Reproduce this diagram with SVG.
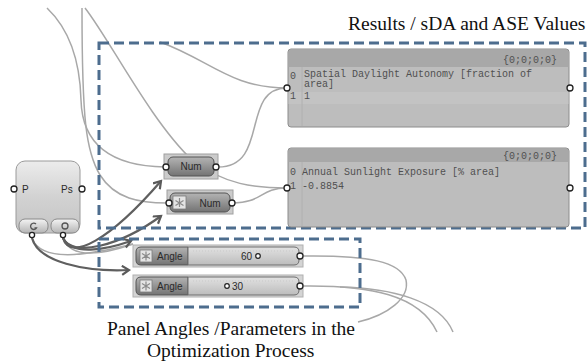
<svg xmlns="http://www.w3.org/2000/svg" width="587" height="361" viewBox="0 0 587 361">
<defs>
<linearGradient id="gNode" x1="0" y1="0" x2="0" y2="1"><stop offset="0" stop-color="#ececec"/><stop offset="0.5" stop-color="#d2d2d2"/><stop offset="1" stop-color="#c4c4c4"/></linearGradient>
<linearGradient id="gBtn" x1="0" y1="0" x2="0" y2="1"><stop offset="0" stop-color="#f4f4f4"/><stop offset="1" stop-color="#b4b4b4"/></linearGradient>
<linearGradient id="gDark" x1="0" y1="0" x2="0" y2="1"><stop offset="0" stop-color="#b4b4b4"/><stop offset="1" stop-color="#737373"/></linearGradient>
<linearGradient id="gTrack" x1="0" y1="0" x2="0" y2="1"><stop offset="0" stop-color="#e2e2e2"/><stop offset="1" stop-color="#bcbcbc"/></linearGradient>
<marker id="arr" markerUnits="userSpaceOnUse" markerWidth="12" markerHeight="12" refX="8" refY="5" orient="auto"><path d="M1,0.5 L8,5 L1,9.5" fill="none" stroke="#5a5a5a" stroke-width="2.2"/></marker>
</defs>
<style>
.wire{fill:none;stroke:#a8a8a8;stroke-width:1.5}
.arrow{fill:none;stroke:#5f5f5f;stroke-width:2.2;marker-end:url(#arr)}
.dash{fill:none;stroke:#4d6d8e;stroke-width:3;stroke-dasharray:10 5}
.port{fill:#fff;stroke:#222;stroke-width:1.3}
.lbl{font-family:"Liberation Sans",Arial,sans-serif;font-size:10px;fill:#2a2a2a}
.mono{font-family:"Liberation Mono","Courier New",monospace;font-size:10px;fill:#505050}
.cap{font-family:"Liberation Serif","Times New Roman",serif;font-size:19.5px;fill:#111}
.panel{fill:#bdbdbd;stroke:#8c8c8c;stroke-width:1}
.hdr{fill:#a8a8a8}
.icon{fill:#e4e4e4;stroke:#7a7a7a;stroke-width:0.8}
.ast{stroke:#8a8a8a;stroke-width:1.2}
</style>
<rect width="587" height="361" fill="#fff"/>

<g id="connectors">
<path class="wire" d="M47,8 C68,28 80,60 81,100 C82,140 105,166 165,167"/>
<path class="wire" d="M82,8 C82,120 86,152 100,175 C115,199 140,203 167,203"/>
<path class="wire" d="M85,8 C110,40 150,120 192,160 C225,185 255,188 287,188"/>
<path class="wire" d="M160,42 C210,60 230,88 287,88"/>
<path class="wire" d="M218,167 C270,167 240,88 287,88"/>
<path class="wire" d="M233,203 C262,203 260,188 287,188"/>
<path class="wire" d="M302,256 C370,255 400,262 406,280 C410,298 388,315 358,322"/>
<path class="wire" d="M302,286 C370,285 420,295 437,332"/>
<path class="wire" d="M340,287 C390,288 440,300 453,332"/>
<path class="wire" d="M32,238 C42,266 100,252 133,244"/>
<path class="wire" d="M63,238 C72,262 110,252 133,244"/>
<path class="arrow" d="M63,238 C70,262 110,240 161,181"/>
<path class="arrow" d="M63,238 C72,258 120,246 161,216"/>
<path class="arrow" d="M63,238 C72,256 105,250 131,241"/>
<path class="arrow" d="M32,238 C38,262 85,272 129,270"/>
</g>

<g id="box-results">
<rect class="dash" x="99" y="43" width="486" height="185"/>
<text class="cap" x="348" y="30">Results / sDA and ASE Values</text>
</g>
<g id="box-params">
<rect class="dash" x="99" y="239" width="261" height="68"/>
<text class="cap" x="107" y="335">Panel Angles /Parameters in the</text>
<text class="cap" x="147" y="357">Optimization Process</text>
</g>

<g id="panel-sda">
<rect class="panel" x="288" y="49" width="281" height="78" rx="3"/>
<path class="hdr" d="M291,49.5 H566 Q568.5,49.5 568.5,52 V67 H288.5 V52 Q288.5,49.5 291,49.5 Z"/>
<rect x="288.5" y="92" width="280" height="12" fill="#c3c3c3"/>
<line x1="302" y1="67" x2="302" y2="126" stroke="#b0b0b0"/>
<text class="mono" x="557" y="63" text-anchor="end">{0;0;0;0}</text>
<text class="mono" x="290" y="79">0</text>
<text class="mono" x="304" y="77">Spatial Daylight Autonomy [fraction of</text>
<text class="mono" x="304" y="87">area]</text>
<text class="mono" x="290" y="99">1</text>
<text class="mono" x="304" y="99">1</text>
<circle class="port" cx="287" cy="88" r="3"/>
<circle class="port" cx="570" cy="88" r="3"/>
</g>

<g id="panel-ase">
<rect class="panel" x="288" y="148" width="281" height="79" rx="3"/>
<path class="hdr" d="M291,148.5 H566 Q568.5,148.5 568.5,151 V162 H288.5 V151 Q288.5,148.5 291,148.5 Z"/>
<line x1="302" y1="162" x2="302" y2="226" stroke="#b0b0b0"/>
<text class="mono" x="557" y="159" text-anchor="end">{0;0;0;0}</text>
<text class="mono" x="290" y="175">0</text>
<text class="mono" x="302" y="175">Annual Sunlight Exposure [% area]</text>
<text class="mono" x="290" y="189">1</text>
<text class="mono" x="302" y="189">-0.8854</text>
<circle class="port" cx="287" cy="188" r="3"/>
<circle class="port" cx="570" cy="188" r="3"/>
</g>

<g id="galapagos">
<rect x="16" y="161" width="64" height="72" rx="9" fill="url(#gNode)" stroke="#9a9a9a"/>
<text class="lbl" x="22" y="193">P</text>
<text class="lbl" x="61" y="193">Ps</text>
<rect x="19" y="219" width="29" height="14" rx="6" fill="url(#gBtn)" stroke="#8a8a8a"/>
<rect x="51" y="219" width="28" height="14" rx="6" fill="url(#gBtn)" stroke="#8a8a8a"/>
<path d="M36,224 A3.2,3.2 0 1 0 36.5,228 L34.5,228" fill="none" stroke="#555" stroke-width="1.3"/>
<circle cx="65" cy="226" r="3" fill="none" stroke="#555" stroke-width="1.3"/>
<circle class="port" cx="14" cy="189" r="3"/>
<circle class="port" cx="82" cy="189" r="3"/>
<circle class="port" cx="32" cy="235" r="2.6"/>
<circle class="port" cx="63" cy="235" r="2.6"/>
</g>

<g id="num1">
<rect x="164" y="154" width="54" height="25" fill="#cbcbcb" stroke="#a0a0a0"/>
<rect x="168" y="157" width="46" height="19" rx="5" fill="url(#gDark)" stroke="#555"/>
<text class="lbl" x="191" y="170" text-anchor="middle">Num</text>
<circle class="port" cx="166" cy="167" r="3"/>
<circle class="port" cx="216" cy="167" r="3"/>
</g>

<g id="num2">
<rect x="167" y="190" width="66" height="24" fill="#cbcbcb" stroke="#a0a0a0"/>
<rect x="170" y="193" width="60" height="19" rx="5" fill="url(#gDark)" stroke="#555"/>
<rect class="icon" x="173" y="196" width="13" height="13"/>
<path class="ast" d="M179.5,198 V207 M175.5,200.5 L183.5,205.5 M175.5,205.5 L183.5,200.5"/>
<text class="lbl" x="210" y="207" text-anchor="middle">Num</text>
<circle class="port" cx="169" cy="203" r="3"/>
<circle class="port" cx="232" cy="203" r="3"/>
</g>

<g id="slider1">
<rect x="133" y="245" width="170" height="22" fill="#d4d4d4" stroke="#b0b0b0"/>
<path d="M141,247 H188 V265 H141 Q136,265 136,260 V252 Q136,247 141,247 Z" fill="url(#gDark)" stroke="#555"/>
<path d="M188,247 H294 Q299,247 299,252 V260 Q299,265 294,265 H188 Z" fill="url(#gTrack)" stroke="#6e6e6e"/>
<line x1="193" y1="251" x2="294" y2="251" stroke="#c9c9c9" stroke-dasharray="1 2"/>
<rect class="icon" x="140" y="250" width="12" height="12"/>
<path class="ast" d="M146,251.5 V260.5 M142,253.5 L150,258.5 M142,258.5 L150,253.5"/>
<text class="lbl" x="157" y="260">Angle</text>
<text class="lbl" x="252" y="260" text-anchor="end">60</text>
<circle cx="258" cy="256" r="2.3" fill="#fff" stroke="#222" stroke-width="1.2"/>
<circle class="port" cx="300" cy="256" r="3"/>
</g>

<g id="slider2">
<rect x="133" y="275" width="170" height="22" fill="#d4d4d4" stroke="#b0b0b0"/>
<path d="M141,277 H188 V295 H141 Q136,295 136,290 V282 Q136,277 141,277 Z" fill="url(#gDark)" stroke="#555"/>
<path d="M188,277 H294 Q299,277 299,282 V290 Q299,295 294,295 H188 Z" fill="url(#gTrack)" stroke="#6e6e6e"/>
<line x1="193" y1="281" x2="294" y2="281" stroke="#c9c9c9" stroke-dasharray="1 2"/>
<rect class="icon" x="140" y="280" width="12" height="12"/>
<path class="ast" d="M146,281.5 V290.5 M142,283.5 L150,288.5 M142,288.5 L150,283.5"/>
<text class="lbl" x="157" y="290">Angle</text>
<circle cx="227" cy="286" r="2.3" fill="#fff" stroke="#222" stroke-width="1.2"/>
<text class="lbl" x="232" y="290">30</text>
<circle class="port" cx="300" cy="286" r="3"/>
</g>
</svg>
